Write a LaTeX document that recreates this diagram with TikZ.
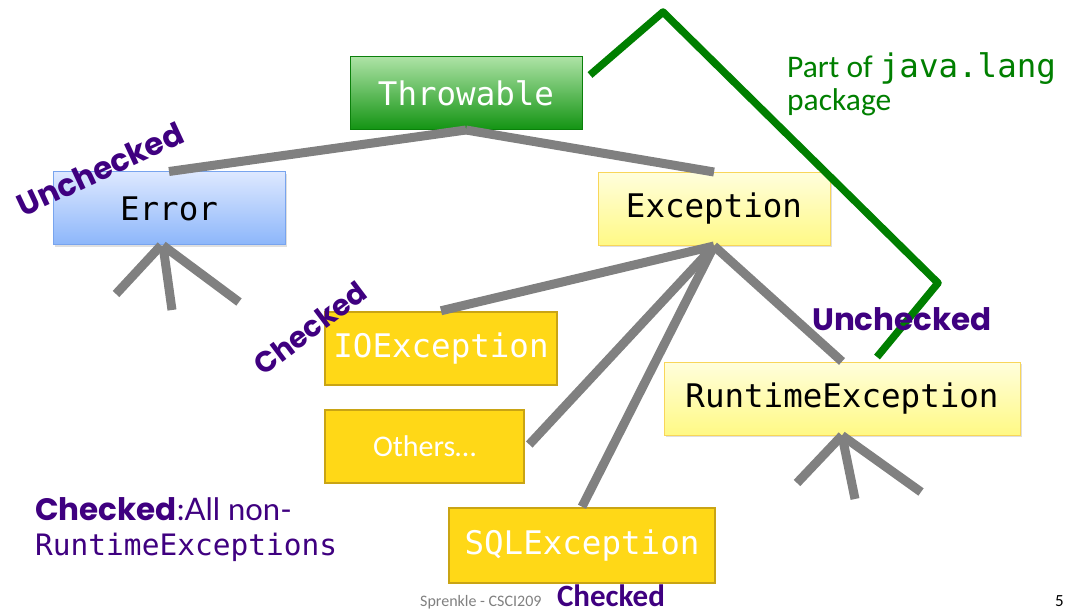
\documentclass[tikz,border=0pt]{standalone}
\usepackage{fontspec}
\setmainfont{Carlito}
\newfontfamily\monof{DejaVu Sans Mono}
\newfontfamily\heavyf{Poppins}
\newfontfamily\gillf{Lato}
\usetikzlibrary{calc,shadows}
\definecolor{purp}{HTML}{3F0080}
\definecolor{lnk}{HTML}{808080}
\definecolor{grn}{HTML}{007F00}
\definecolor{gold}{HTML}{FFD817}
\definecolor{goldedge}{HTML}{C9A414}
\definecolor{bluetop}{HTML}{DDE8FF}
\definecolor{bluebot}{HTML}{8CB6FA}
\definecolor{blueedge}{HTML}{78A4EE}
\definecolor{yeltop}{HTML}{FFFEDC}
\definecolor{yelbot}{HTML}{FFF985}
\definecolor{yeledge}{HTML}{F8D65A}
\definecolor{grntop}{HTML}{AEE3A6}
\definecolor{grnbot}{HTML}{139413}
\definecolor{grnedge}{HTML}{0B800B}
\begin{document}
\begin{tikzpicture}[x=1pt,y=-1pt,
  box/.style={minimum width=232pt,minimum height=73pt,inner sep=0pt,
    font=\monof\fontsize{32.5}{36}\selectfont},
  shade/.style={drop shadow={opacity=0.25,shadow xshift=1.5pt,shadow yshift=-2pt}},
  greenbox/.style={box,draw=grnedge,line width=1pt,top color=grntop,bottom color=grnbot,text=white},
  bluebox/.style={box,shade,draw=blueedge,line width=1pt,top color=bluetop,bottom color=bluebot,text=black},
  yelbox/.style={box,shade,draw=yeledge,line width=1pt,top color=yeltop,bottom color=yelbot,text=black},
  goldbox/.style={box,fill=gold,draw=goldedge,line width=2.5pt,text=white},
  link/.style={draw=lnk,line width=9pt},
  tag/.style={text=purp,font=\heavyf\bfseries\fontsize{31}{36}\selectfont,inner sep=0pt},
]
\useasboundingbox (0,0) rectangle (1065,612);

% class boxes
\node[greenbox] (thr) at (466,93) {Throwable};
\node[bluebox] (err) at (169,208.5) {Error};
\node[yelbox] (exc) at (714,209) {Exception};
\node[goldbox] (ioe) at (441,348.5) {IOException};
\node[goldbox,minimum width=199pt,font=\fontsize{30}{34}\selectfont] (oth) at (424.5,446.5) {Others…};
\node[goldbox,minimum width=266pt,minimum height=75pt] (sql) at (582,545.5) {SQLException};
\node[yelbox,minimum width=356pt] (rte) at (842,398.5) {RuntimeException};

% inheritance links
\draw[link] (thr.south) -- (err.north);
\draw[link] (thr.south) -- (exc.north);
\draw[link] (exc.south) -- (ioe.north);
\draw[link] (exc.south) -- ($(oth.east)+(4,-2)$);
\draw[link] (exc.south) -- (sql.north);
\draw[link] (exc.south) -- (rte.north);

% unnamed subclasses
\coordinate (e1) at (116,294);
\coordinate (e2) at (172,310);
\coordinate (e3) at (239,302);
\draw[link] ($(err.south)+(-8,0)$) -- (e1);
\draw[link] ($(err.south)+(-6,0)$) -- (e2);
\draw[link] ($(err.south)+(-6,0)$) -- (e3);
\coordinate (r1) at (797,483);
\coordinate (r2) at (855,499);
\coordinate (r3) at (921,492);
\draw[link] (rte.south) -- (r1);
\draw[link] (rte.south) -- (r2);
\draw[link] (rte.south) -- (r3);

% java.lang bracket
\coordinate (g1) at (590,75);
\coordinate (g2) at (663,12);
\coordinate (g3) at (938,283);
\coordinate (g4) at (877,357);
\draw[grn,line width=7.5pt,line join=round] (g1) -- (g2) -- (g3) -- (g4);
\node[text=grn,anchor=base west,inner sep=0pt,font=\fontsize{31.5}{36}\selectfont] (pkg1) at (787,78) {Part of \monof\fontsize{32.5}{36}\selectfont java.lang};
\node[text=grn,anchor=base west,inner sep=0pt,font=\fontsize{31.5}{36}\selectfont] (pkg2) at (787,111) {package};

% checked / unchecked labels
\node[tag,rotate=25] (ucE) at (100,169) {Unchecked};
\node[tag,rotate=37,font=\heavyf\bfseries\fontsize{29}{34}\selectfont] (chI) at (310,328) {Checked};
\node[tag,anchor=base west] (ucR) at (812,330) {Unchecked};
\node[tag,anchor=base,font=\bfseries\fontsize{31}{36}\selectfont] (chS) at (611,606) {Checked};

% legend
\node[anchor=base west,inner sep=0pt,text=purp] (leg1) at (35,520) {{\heavyf\bfseries\fontsize{31}{34}\selectfont Checked}{\gillf\fontsize{31}{34}\selectfont :All non-}};
\node[anchor=base west,inner sep=0pt,text=purp,font=\monof\fontsize{29.5}{34}\selectfont] (leg2) at (35,555) {RuntimeExceptions};

% footer
\node[anchor=base west,inner sep=0pt,text=gray,font=\fontsize{16}{19}\selectfont] (foot) at (420,606) {Sprenkle - CSCI209};
\node[anchor=base east,inner sep=0pt,text=black,font=\fontsize{17}{20}\selectfont] (pg) at (1064,606) {5};
\end{tikzpicture}
\end{document}
